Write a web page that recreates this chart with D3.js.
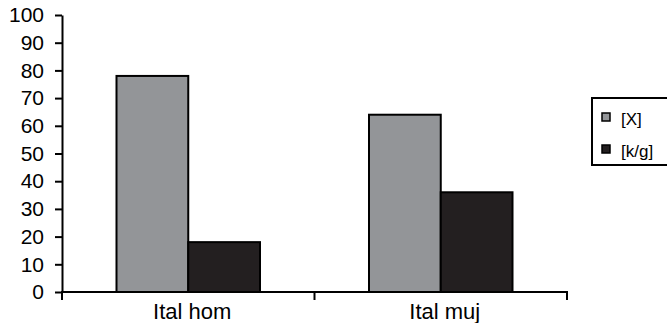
<!DOCTYPE html>
<html>
<head>
<meta charset="utf-8">
<script src="https://cdn.jsdelivr.net/npm/d3@7"></script>
<style>
  html, body { margin: 0; padding: 0; background: #fff; }
  svg { display: block; font-family: Arial, "Liberation Sans", sans-serif; }
</style>
</head>
<body>
<svg id="chart" width="667" height="323"></svg>
<script>
// Grouped bars: two series per category
const categories = ["Ital hom", "Ital muj"];
const seriesNames = ["[X]", "[k/g]"];
const seriesX = [78, 64];
const seriesKG = [18, 36];
const yTicks = [0, 10, 20, 30, 40, 50, 60, 70, 80, 90, 100];

const colors = ["#939598", "#231f20"];
const series = [seriesX, seriesKG];

const svg = d3.select("#chart");
const margin = { left: 62, right: 100, top: 15, bottom: 31 };
const W = 667, H = 323;

const x0 = d3.scaleBand()
  .domain(categories)
  .range([margin.left, 567])
  .paddingInner(0)
  .paddingOuter(0);

const inner = 143.5 / x0.bandwidth();
const x1 = d3.scaleBand()
  .domain(seriesNames)
  .range([x0.bandwidth() * (1 - inner) / 2, x0.bandwidth() * (1 + inner) / 2]);

const y = d3.scaleLinear().domain([0, 100]).range([H - margin.bottom, margin.top]);

// bars
const groups = svg.append("g").selectAll("g")
  .data(categories)
  .join("g")
  .attr("transform", d => `translate(${x0(d)},0)`);

groups.selectAll("rect")
  .data((c, i) => seriesNames.map((s, j) => ({ s, j, v: series[j][i] })))
  .join("rect")
  .attr("x", d => x1(d.s))
  .attr("width", x1.bandwidth())
  .attr("y", d => y(d.v))
  .attr("height", d => y(0) - y(d.v))
  .attr("fill", d => colors[d.j])
  .attr("stroke", "#000")
  .attr("stroke-width", 2);

// y axis
const yAxis = svg.append("g")
  .attr("transform", `translate(${margin.left},0)`)
  .call(d3.axisLeft(y).tickValues(yTicks).tickSize(7).tickSizeOuter(0).tickPadding(11).tickFormat(d3.format("d")));
yAxis.select(".domain").attr("stroke", "#000").attr("stroke-width", 2);
yAxis.selectAll(".tick line").attr("stroke", "#000").attr("stroke-width", 2);
yAxis.selectAll("text").attr("font-size", 21).attr("fill", "#000")
  .attr("font-family", "Arial, 'Liberation Sans', sans-serif");

// x axis with boundary ticks between categories
const xAxisG = svg.append("g").attr("transform", `translate(0,${y(0)})`);
xAxisG.append("line")
  .attr("x1", margin.left).attr("x2", 567)
  .attr("stroke", "#000").attr("stroke-width", 2);
const bounds = categories.map(c => x0(c)).concat([x0(categories[categories.length - 1]) + x0.bandwidth()]);
xAxisG.selectAll(".bt").data(bounds).join("line")
  .attr("class", "bt")
  .attr("x1", d => d).attr("x2", d => d)
  .attr("y1", -1).attr("y2", 8)
  .attr("stroke", "#000").attr("stroke-width", 2);
xAxisG.selectAll("text").data(categories).join("text")
  .attr("x", d => x0(d) + x0.bandwidth() / 2 + 4)
  .attr("y", 27)
  .attr("text-anchor", "middle")
  .attr("font-size", 22)
  .attr("fill", "#000")
  .text(d => d);

// legend
const lg = svg.append("g");
lg.append("rect")
  .attr("x", 592).attr("y", 98).attr("width", 90).attr("height", 67)
  .attr("fill", "#fff").attr("stroke", "#000").attr("stroke-width", 2);
const items = lg.selectAll(".item").data(seriesNames).join("g")
  .attr("class", "item")
  .attr("transform", (d, i) => `translate(0,${125 + i * 32})`);
items.append("rect")
  .attr("x", 602).attr("y", -12).attr("width", 8).attr("height", 8)
  .attr("fill", (d, i) => colors[i]).attr("stroke", "#000").attr("stroke-width", 1.5);
items.append("text")
  .attr("x", 621).attr("y", 0)
  .attr("font-size", 17).attr("fill", "#000")
  .text(d => d);
</script>
</body>
</html>
